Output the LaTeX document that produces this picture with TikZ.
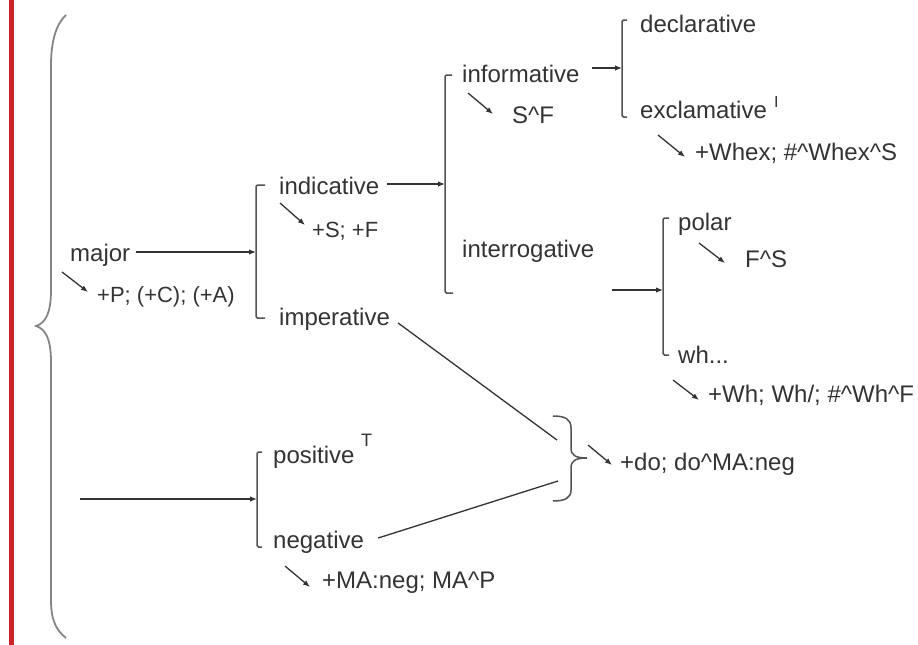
\documentclass[tikz,border=0pt]{standalone}
\usepackage{fontspec}
\setmainfont{Liberation Sans}
\usetikzlibrary{arrows.meta}
\definecolor{ink}{HTML}{333333}
\definecolor{bracegray}{HTML}{858585}
\definecolor{barred}{HTML}{CC2229}

\begin{document}
\begin{tikzpicture}[x=1pt,y=-1pt,
  lbl/.style={anchor=base west, inner sep=0pt, text=ink, font=\fontsize{24}{28}\selectfont},
  smalllbl/.style={lbl, font=\fontsize{22}{26}\selectfont},
  supmark/.style={lbl, font=\fontsize{16}{18}\selectfont},
  link/.style={draw=ink, line width=1.3pt, -{Latex[length=7pt,width=5.5pt]}},
  pointer/.style={draw=ink, line width=1.3pt, -{Latex[length=7pt,width=5.5pt]}},
  plainline/.style={draw=ink, line width=1.3pt},
  bracket/.style={draw=ink!85, line width=1.5pt, rounded corners=1.5pt},
  bigbrace/.style={draw=bracegray, line width=1.8pt},
]
\useasboundingbox (0,0) rectangle (918,645);
\fill[barred] (8.5,0) rectangle (13.5,645);

% outer brace grouping the whole system
\draw[bigbrace] (66,15) .. controls (56,24) and (51,42) .. (51,65) -- (51,290)
  .. controls (51,312) and (46,323) .. (36,326)
  .. controls (46,329) and (51,340) .. (51,362) -- (51,600)
  .. controls (51,620) and (56,630) .. (66,638);

% labels
\node[lbl] (major) at (70,261) {major};
\node[smalllbl] (majorN) at (97,302) {+P; (+C); (+A)};
\node[lbl] (indic) at (279,194) {indicative};
\node[smalllbl] (indicN) at (312,237) {+S; +F};
\node[lbl] (imper) at (279,325) {imperative};
\node[lbl] (inform) at (462,82) {informative};
\node[lbl] (informN) at (512,123) {S\textasciicircum F};
\node[lbl] (interr) at (462,257) {interrogative};
\node[lbl] (decl) at (640,32) {declarative};
\node[lbl] (excl) at (640,118) {exclamative};
\node[supmark] (exclI) at (774,107) {I};
\node[lbl] (exclN) at (695,160) {+Whex; \#\textasciicircum Whex\textasciicircum S};
\node[lbl] (polar) at (678,230) {polar};
\node[lbl] (polarN) at (745,267) {F\textasciicircum S};
\node[lbl] (wh) at (678,363) {wh...};
\node[lbl] (whN) at (708,402) {+Wh; Wh/; \#\textasciicircum Wh\textasciicircum F};
\node[lbl] (pos) at (273,463) {positive};
\node[supmark, font=\fontsize{18}{20}\selectfont] (posT) at (361,446) {T};
\node[lbl] (neg) at (273,548) {negative};
\node[lbl] (negN) at (322,588) {+MA:neg; MA\textasciicircum P};
\node[lbl] (doN) at (620,470) {+do; do\textasciicircum MA:neg};

% brackets
\draw[bracket] (265,185) -- (256,185) -- (256,318) -- (265,318);
\draw[bracket] (452,75) -- (445,75) -- (445,293) -- (453,293);
\draw[bracket] (627,20) -- (622,20) -- (622,117) -- (627,117);
\draw[bracket] (669,218) -- (663,218) -- (663,355) -- (669,355);
\draw[bracket] (262,452) -- (257,452) -- (257,547) -- (262,547);

% brace joining imperative and negative
\draw[bracket, rounded corners=0pt] (553,416) .. controls (565,416) and (571,419) .. (571,428) -- (571,448)
  .. controls (571,455) and (575,458) .. (587,458)
  .. controls (575,458) and (571,461) .. (571,468) -- (571,490)
  .. controls (571,498) and (565,501) .. (553,501);

% entry points of the brackets
\coordinate (b1) at (256,252);
\coordinate (b2) at (445,184);
\coordinate (b3) at (622,68);
\coordinate (b4) at (663,290);
\coordinate (b5) at (257,499);
\coordinate (i4) at (612,290);
\coordinate (i5) at (80,499);
\coordinate (r1) at (557,440);
\coordinate (r2) at (558,481);

% connectors
\draw[link] ([xshift=6pt]major.east |- b1) -- (b1);
\draw[link] ([xshift=8pt]indic.east |- b2) -- (b2);
\draw[link] ([xshift=12pt]inform.east |- b3) -- (b3);
\draw[link] (i4) -- (b4);
\draw[link] (i5) -- (b5);
\draw[plainline] ([xshift=8pt,yshift=2pt]imper.base east) -- (r1);
\draw[plainline] ([xshift=14pt,yshift=10pt]neg.base east) -- (r2);

% realisation pointers
\coordinate (p1s) at (62,272);  \coordinate (p1e) at (88,292);
\coordinate (p2s) at (280,203); \coordinate (p2e) at (305,225);
\coordinate (p3s) at (468,93);  \coordinate (p3e) at (493,114);
\coordinate (p4s) at (658,135); \coordinate (p4e) at (685,157);
\coordinate (p5s) at (699,243); \coordinate (p5e) at (725,263);
\coordinate (p6s) at (673,380); \coordinate (p6e) at (699,400);
\coordinate (p7s) at (588,445); \coordinate (p7e) at (612,465);
\coordinate (p8s) at (285,566); \coordinate (p8e) at (310,587);
\foreach \k in {1,...,8} \draw[pointer] (p\k s) -- (p\k e);
\end{tikzpicture}
\end{document}
